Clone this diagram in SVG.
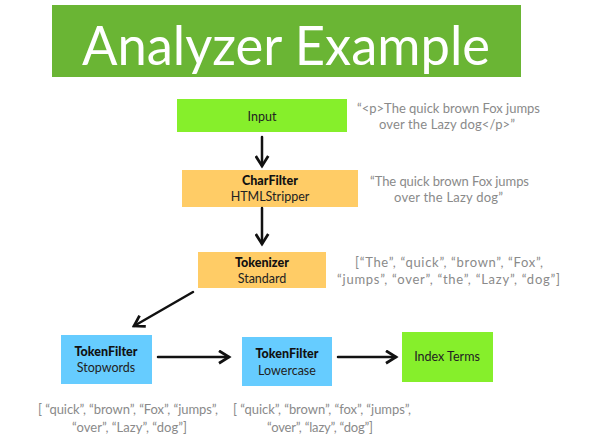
<svg xmlns="http://www.w3.org/2000/svg" width="597" height="441" viewBox="0 0 597 441">
<defs>
<style>
.t{font-family:Lato,"Open Sans","Liberation Sans",sans-serif;}
.lbl{font-size:12.5px;fill:#222;text-anchor:middle;}
.b{font-weight:900;fill:#111;}
.note{font-size:13px;fill:#8a8a8a;text-anchor:middle;}
.c{stroke:#111;stroke-width:2.5;fill:none;stroke-linecap:round;}
</style>
<marker id="ah" viewBox="0 0 12 12" refX="10" refY="6" markerWidth="6" markerHeight="6" orient="auto" markerUnits="strokeWidth">
<path d="M2,1 L10,6 L2,11" fill="none" stroke="#111" stroke-width="2.2" stroke-linejoin="miter"/>
</marker>
</defs>
<rect width="597" height="441" fill="#fff"/>
<g id="title">
<rect x="52" y="5" width="469" height="72" fill="#6ab534"/>
<text class="t" x="286" y="65" font-size="54" fill="#fff" text-anchor="middle" textLength="408" lengthAdjust="spacingAndGlyphs">Analyzer Example</text>
</g>
<g id="input">
<rect x="177" y="99" width="170" height="33" fill="#86ef2b"/>
<text class="t lbl" x="262" y="121">Input</text>
</g>
<g id="charfilter">
<rect x="182" y="170" width="176" height="37" fill="#ffcc66"/>
<text class="t lbl b" x="270" y="185">CharFilter</text>
<text class="t lbl" x="270" y="201">HTMLStripper</text>
</g>
<g id="tokenizer">
<rect x="198" y="252" width="128" height="36" fill="#ffcc66"/>
<text class="t lbl b" x="262" y="267">Tokenizer</text>
<text class="t lbl" x="262" y="283">Standard</text>
</g>
<g id="stopwords">
<rect x="61" y="335" width="91" height="49" fill="#66ccff"/>
<text class="t lbl b" x="106" y="356">TokenFilter</text>
<text class="t lbl" x="106" y="372">Stopwords</text>
</g>
<g id="lowercase">
<rect x="242" y="337" width="90" height="49" fill="#66ccff"/>
<text class="t lbl b" x="287" y="358">TokenFilter</text>
<text class="t lbl" x="287" y="375">Lowercase</text>
</g>
<g id="indexterms">
<rect x="402" y="332" width="91" height="50" fill="#86ef2b"/>
<text class="t lbl" x="447" y="361">Index Terms</text>
</g>
<g id="notes">
<text class="t note" x="448.5" y="113" textLength="183">“&lt;p&gt;The quick brown Fox jumps</text>
<text class="t note" x="447" y="129" textLength="136">over the Lazy dog&lt;/p&gt;”</text>
<text class="t note" x="449.5" y="186" textLength="159">“The quick brown Fox jumps</text>
<text class="t note" x="448.5" y="202" textLength="109">over the Lazy dog”</text>
<text class="t note" x="449" y="267" textLength="188">[“The”, “quick”, “brown”, “Fox”,</text>
<text class="t note" x="448.5" y="284" textLength="223">“jumps”, “over”, “the”, “Lazy”, “dog”]</text>
<text class="t note" x="128" y="414" textLength="180">[ “quick”, “brown”, “Fox”, “jumps”,</text>
<text class="t note" x="129.5" y="432" textLength="115">“over”, “Lazy”, “dog”]</text>
<text class="t note" x="322" y="414" textLength="178">[ “quick”, “brown”, “fox”, “jumps”,</text>
<text class="t note" x="320" y="432" textLength="106">“over”, “lazy”, “dog”]</text>
</g>
<g id="connectors">
<path class="c" d="M262,137 L262,166" marker-end="url(#ah)"/>
<path class="c" d="M262,208 L262,244" marker-end="url(#ah)"/>
<path class="c" d="M193,292 L134,326" marker-end="url(#ah)"/>
<path class="c" d="M158,357 L229,357" marker-end="url(#ah)"/>
<path class="c" d="M338,357 L396,357" marker-end="url(#ah)"/>
</g>
</svg>
